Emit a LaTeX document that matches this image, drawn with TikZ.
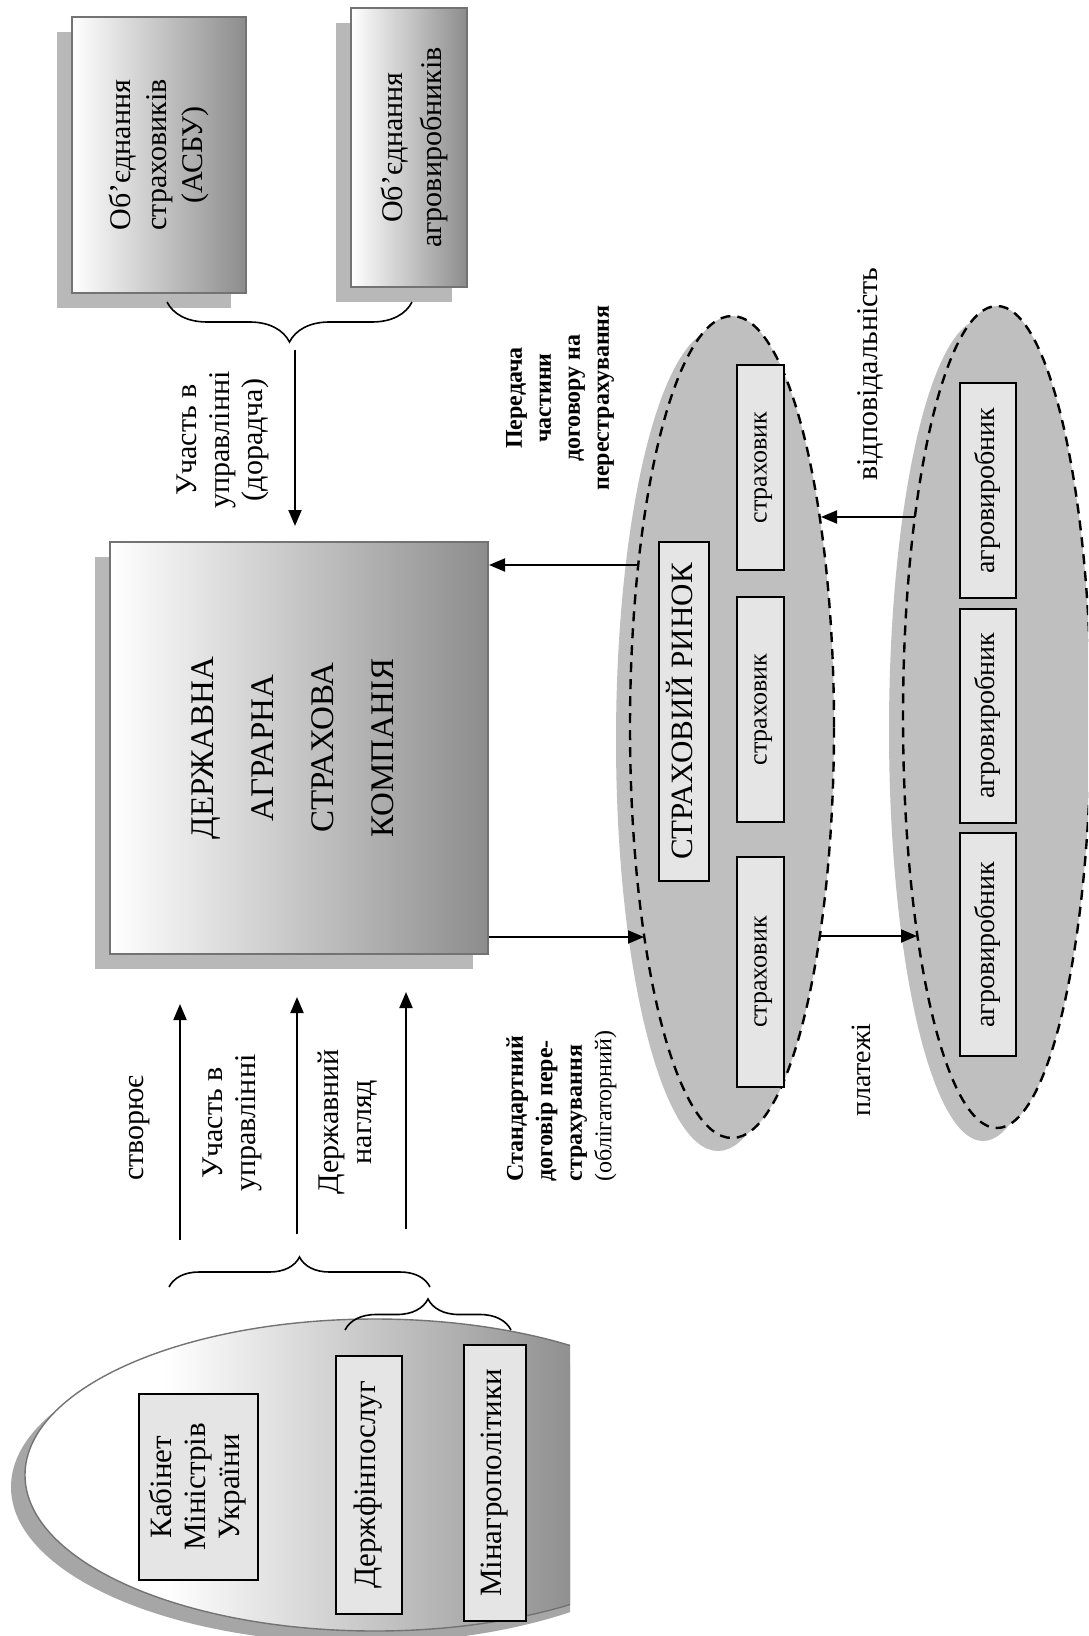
\documentclass[tikz,border=0pt]{standalone}
\usepackage{fontspec}
\setmainfont{Liberation Serif}
\usetikzlibrary{shapes.geometric,arrows.meta,decorations.pathreplacing,shadows}
\definecolor{shadowgray}{gray}{0.72}
\definecolor{ellgray}{gray}{0.75}
\definecolor{granite}{gray}{0.9}
\definecolor{edgegray}{gray}{0.45}
\pgfdeclarehorizontalshading{ellshade}{100bp}{color(0bp)=(white); color(35bp)=(white); color(75bp)=(black!60); color(100bp)=(black!60)}
\newcommand\vtxt[1]{\rotatebox{90}{\begin{tabular}{@{}c@{}}#1\end{tabular}}}
\newcommand\vtxtshift[2]{\rotatebox{90}{\raisebox{#1}[\height][\depth]{\begin{tabular}{@{}c@{}}#2\end{tabular}}}}
\begin{document}
\begin{tikzpicture}[x=0.5pt,y=-0.5pt,
 gbox/.style={draw=edgegray, line width=1pt, left color=white, right color=black!45, inner sep=0pt,
   general shadow={shadow xshift=-7.5pt, shadow yshift=-7.5pt, fill=shadowgray, draw=none}},
 tbox/.style={draw=black, line width=0.8pt, fill=granite, inner sep=0pt, font=\fontsize{15.5}{17}\selectfont},
 mkt/.style={ellipse, draw=black, line width=1.2pt, dash pattern=on 5pt off 3.5pt, fill=ellgray, inner sep=0pt,
   general shadow={shadow xshift=-7pt, shadow yshift=-6.5pt, fill=ellgray, draw=none}},
 arr/.style={line width=1pt, -{Triangle[length=8pt,width=6.5pt]}},
 lbl/.style={rotate=90, inner sep=0pt, align=center, font=\fontsize{15}{16.5}\selectfont},
 blbl/.style={rotate=90, inner sep=0pt},
 brc/.style={decorate, line width=0.8pt}
]
\useasboundingbox (0,0) rectangle (1088,1636);
\clip (0,0) rectangle (1088,1636);
\fill[white] (0,0) rectangle (1088,1636);

% government ellipse
\begin{scope}
\clip (0,0) rectangle (570,1636);
\node[ellipse, minimum width=350pt, minimum height=156pt, inner sep=0pt, draw=edgegray, line width=0.7pt,
  shade, shading=ellshade, general shadow={shadow xshift=-7pt, shadow yshift=-6pt, fill=black!35, draw=none}]
  (gov) at (375,1475) {};
\end{scope}
\node[tbox, minimum width=59.5pt, minimum height=93pt] (kab) at (198.5,1487) {\vtxt{Кабінет\\Міністрів\\України}};
\node[tbox, minimum width=33pt, minimum height=129pt] (dfp) at (369,1485) {\vtxt{Держфінпослуг}};
\node[tbox, minimum width=31pt, minimum height=138pt] (map) at (495,1483) {\vtxt{Мінагрополітики}};

% top boxes
\node[gbox, minimum width=87pt, minimum height=138pt, font=\fontsize{15}{18}\selectfont] (asbu) at (159,155)
  {\vtxt{Об’єднання\\страховиків\\(АСБУ)}};
\node[gbox, minimum width=58pt, minimum height=139.5pt, font=\fontsize{15}{19.5}\selectfont] (agu) at (409,147.5)
  {\vtxtshift{-2.5pt}{Об’єднання\\агровиробників}};

% main company
\node[gbox, minimum width=189pt, minimum height=206pt, font=\fontsize{16.5}{30}\selectfont] (dask) at (299,748)
  {\vtxtshift{4pt}{ДЕРЖАВНА\\АГРАРНА\\СТРАХОВА\\КОМПАНІЯ}};

% market ellipses
\node[mkt, minimum width=102pt, minimum height=411pt] (mA) at (732,727) {};
\node[mkt, minimum width=94pt, minimum height=411pt] (mB) at (997,717) {};

\node[tbox, minimum width=25pt, minimum height=169.5pt] (ryn) at (684,711.5) {\vtxt{СТРАХОВИЙ РИНОК}};
\node[tbox, minimum width=23.5pt, minimum height=102.5pt, font=\fontsize{13}{15}\selectfont] (s1) at (760.5,467.5) {\vtxt{страховик}};
\node[tbox, minimum width=23.5pt, minimum height=112.5pt, font=\fontsize{13}{15}\selectfont] (s2) at (760.5,709.5) {\vtxt{страховик}};
\node[tbox, minimum width=23.5pt, minimum height=115pt, font=\fontsize{13}{15}\selectfont] (s3) at (760.5,972) {\vtxt{страховик}};

\node[tbox, minimum width=28pt, minimum height=107.5pt, font=\fontsize{14}{16}\selectfont] (g1) at (988,490.5) {\vtxt{агровиробник}};
\node[tbox, minimum width=28pt, minimum height=107pt, font=\fontsize{14}{16}\selectfont] (g2) at (988,716) {\vtxt{агровиробник}};
\node[tbox, minimum width=28pt, minimum height=111.5pt, font=\fontsize{14}{16}\selectfont] (g3) at (988,944.5) {\vtxt{агровиробник}};

% braces
\coordinate (ub1) at (167,302);
\coordinate (ub2) at (412,302);
\draw[brc, decoration={brace, amplitude=20pt}] (ub2) -- (ub1);
\coordinate (lb1) at (169,1287);
\coordinate (lb2) at (430,1287);
\draw[brc, decoration={brace, amplitude=15pt}] (lb1) -- (lb2);
\coordinate (sb1) at (345,1330);
\coordinate (sb2) at (511,1330);
\draw[brc, decoration={brace, amplitude=15.5pt}] (sb1) -- (sb2);

% arrows
\coordinate (a0) at (295,350);
\draw[arr, shorten >=7.5pt] (a0) -- (a0 |- dask.north);
\coordinate (u1) at (180,1240);
\coordinate (u2) at (297,1234);
\coordinate (u3) at (406,1229);
\draw[arr, shorten >=24.5pt] (u1) -- (u1 |- dask.south);
\draw[arr, shorten >=21pt] (u2) -- (u2 |- dask.south);
\draw[arr, shorten >=18.5pt] (u3) -- (u3 |- dask.south);

\coordinate (p1) at (638,565);
\draw[arr] (p1) -- (p1 -| dask.east);
\coordinate (p2) at (644,937);
\draw[arr] (p2 -| dask.east) -- (p2);
\coordinate (q1) at (915,517);
\coordinate (q2) at (821,517);
\draw[arr] (q1) -- (q2);
\coordinate (r1) at (820,936);
\coordinate (r2) at (917,936);
\draw[arr] (r1) -- (r2);

% labels
\node[lbl] (l1) at (223,440) {Участь в\\управлінні\\(дорадча)};
\node[lbl] (l2) at (140,1128) {створює};
\node[lbl] (l3) at (232,1123) {Участь в\\управлінні};
\node[lbl] (l4) at (348,1122) {Державний\\нагляд};
\node[blbl, align=center, font=\bfseries\fontsize{12}{14.5}\selectfont] (l5) at (560,398) {Передача\\частини\\договору на\\перестрахування};
\node[blbl, align=left, font=\fontsize{12}{14.75}\selectfont] (l6) at (561.5,1106) {\textbf{Стандартний}\\\textbf{договір пере-}\\\textbf{страхування}\\(облігаторний)};
\node[lbl] (l7) at (870,374) {відповідальність};
\node[lbl, font=\fontsize{14}{16}\selectfont] (l8) at (861,1070) {платежі};
\end{tikzpicture}
\end{document}
